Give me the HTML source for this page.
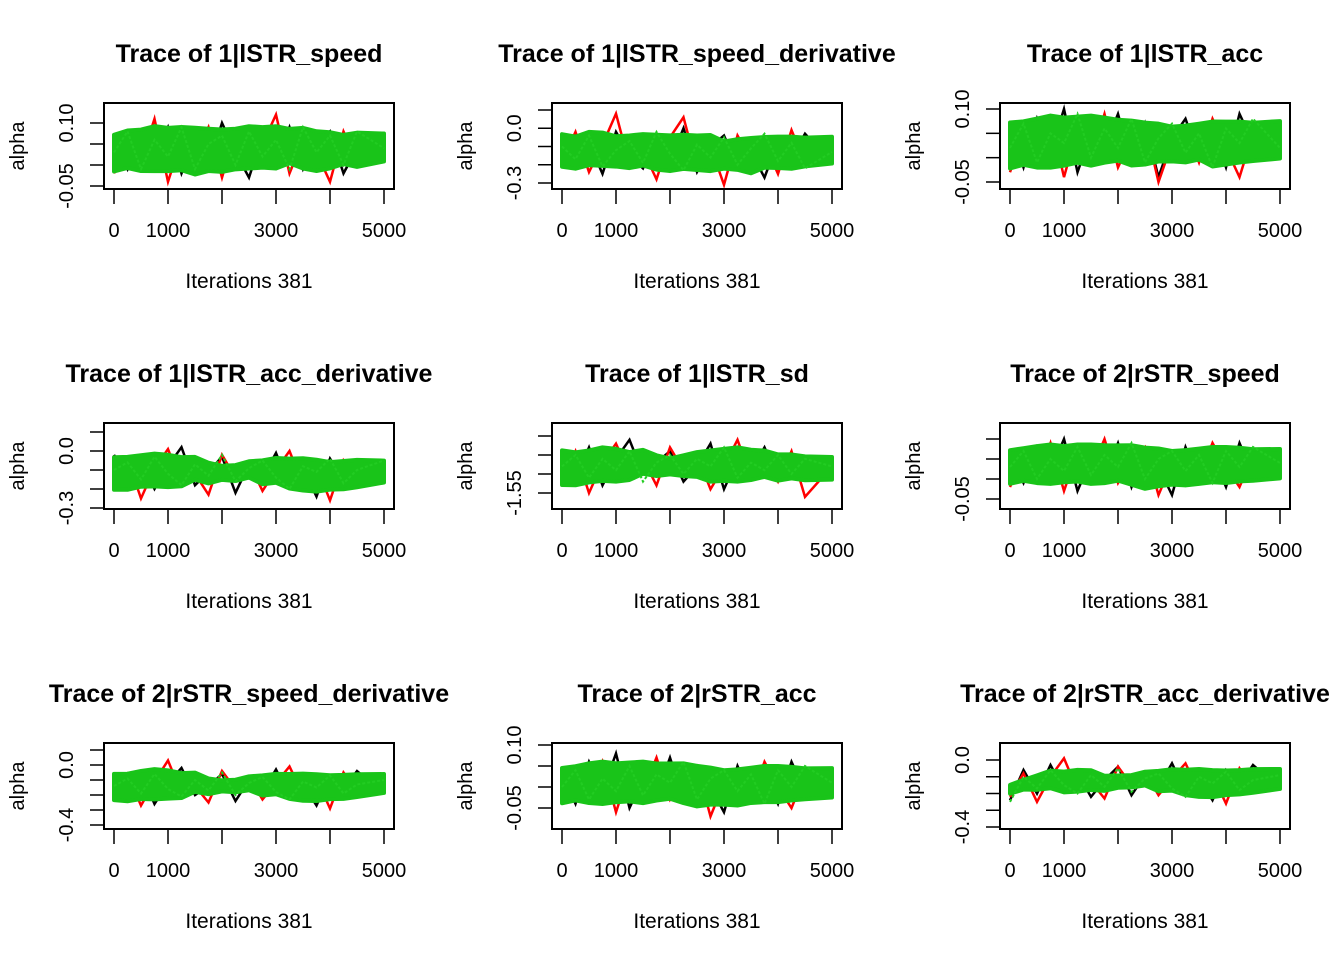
<!DOCTYPE html>
<html><head><meta charset="utf-8"><style>
body{margin:0;background:#fff;}
svg{display:block;font-family:"Liberation Sans",Arial,sans-serif;}
</style></head><body>
<svg id="chart" width="1344" height="960" viewBox="0 0 1344 960" xmlns="http://www.w3.org/2000/svg"></svg>
<script>
const titles=["Trace of 1|lSTR_speed","Trace of 1|lSTR_speed_derivative","Trace of 1|lSTR_acc","Trace of 1|lSTR_acc_derivative","Trace of 1|lSTR_sd","Trace of 2|rSTR_speed","Trace of 2|rSTR_speed_derivative","Trace of 2|rSTR_acc","Trace of 2|rSTR_acc_derivative"];
const xTicks=[0,1000,2000,3000,4000,5000];
const xTickLabels=["0","1000","","3000","","5000"];
const iterations=[0,250,500,750,1000,1250,1500,1750,2000,2250,2500,2750,3000,3250,3500,3750,4000,4250,4500,5000];
const yTicks=[[0.10,0.05,0,-0.05],[0.1,0,-0.1,-0.2,-0.3],[0.10,0.05,0,-0.05],[0.1,0,-0.1,-0.2,-0.3],[-1.40,-1.45,-1.50,-1.55],[0.10,0.05,0,-0.05],[0.1,0,-0.1,-0.2,-0.3,-0.4],[0.10,0.05,0,-0.05],[0,-0.1,-0.2,-0.3,-0.4]];
const yTickLabels=[["0.10","","","-0.05"],["","0.0","","","-0.3"],["0.10","","","-0.05"],["","0.0","","","-0.3"],["","","","-1.55"],["","","","-0.05"],["","0.0","","","","-0.4"],["0.10","","","-0.05"],["0.0","","","","-0.4"]];
const chainBlack=[
[0.05,-0.01,0.08,0.02,0.09,-0.02,0.06,0.00,0.10,0.03,-0.03,0.07,0.01,0.09,-0.01,0.05,0.08,-0.02,0.04,0.06],
[-0.05,-0.20,-0.08,-0.25,-0.02,-0.15,-0.22,-0.06,-0.18,0.00,-0.24,-0.10,-0.04,-0.21,-0.13,-0.27,-0.07,-0.16,-0.03,-0.19],
[0.06,-0.02,0.08,0.01,0.10,-0.03,0.05,0.02,0.09,-0.01,0.07,-0.04,0.04,0.08,0.00,0.06,-0.02,0.09,0.03,0.05],
[-0.02,-0.16,-0.05,-0.20,-0.08,0.02,-0.18,-0.11,-0.03,-0.22,-0.07,-0.14,-0.01,-0.19,-0.09,-0.24,-0.04,-0.15,-0.06,-0.17],
[-1.45,-1.51,-1.43,-1.53,-1.46,-1.41,-1.50,-1.47,-1.44,-1.52,-1.48,-1.42,-1.54,-1.46,-1.49,-1.43,-1.51,-1.45,-1.50,-1.47],
[0.06,-0.01,0.08,0.02,0.10,-0.03,0.05,0.01,0.09,-0.02,0.07,0.03,-0.04,0.08,0.00,0.06,-0.02,0.09,0.01,0.05],
[-0.08,-0.22,-0.05,-0.26,-0.12,-0.02,-0.20,-0.14,-0.06,-0.24,-0.10,-0.18,-0.03,-0.21,-0.13,-0.27,-0.07,-0.16,-0.04,-0.19],
[0.03,-0.04,0.06,-0.01,0.08,-0.05,0.02,-0.02,0.07,-0.03,0.04,0.00,-0.06,0.05,-0.02,0.03,-0.04,0.06,-0.01,0.02],
[-0.24,-0.06,-0.20,-0.03,-0.18,-0.08,-0.22,-0.12,-0.04,-0.21,-0.09,-0.16,-0.02,-0.19,-0.11,-0.24,-0.06,-0.15,-0.03,-0.17]];
const chainRed=[
[-0.02,0.07,0.01,0.11,-0.04,0.06,0.02,0.09,-0.03,0.08,0.00,0.05,0.12,-0.02,0.06,0.03,-0.04,0.08,0.01,0.05],
[-0.18,-0.02,-0.24,-0.09,0.08,-0.20,-0.12,-0.28,-0.05,0.06,-0.22,-0.10,-0.31,-0.04,-0.17,-0.08,-0.25,-0.01,-0.19,-0.11],
[-0.03,0.05,0.01,0.08,-0.04,0.06,0.00,0.09,-0.02,0.04,0.07,-0.05,0.03,0.06,-0.01,0.08,0.02,-0.04,0.05,0.01],
[-0.19,-0.04,-0.25,-0.09,0.01,-0.17,-0.12,-0.23,-0.02,-0.14,-0.06,-0.21,-0.10,0.00,-0.18,-0.08,-0.26,-0.05,-0.15,-0.11],
[-1.52,-1.44,-1.55,-1.47,-1.42,-1.50,-1.46,-1.53,-1.43,-1.49,-1.45,-1.54,-1.48,-1.41,-1.51,-1.46,-1.52,-1.44,-1.56,-1.48],
[-0.02,0.06,0.00,0.09,-0.03,0.07,0.02,0.10,-0.01,0.05,0.08,-0.04,0.04,0.07,0.00,0.09,0.03,-0.02,0.06,0.02],
[-0.20,-0.06,-0.27,-0.11,0.03,-0.19,-0.14,-0.25,-0.04,-0.16,-0.08,-0.23,-0.12,-0.01,-0.20,-0.09,-0.29,-0.05,-0.17,-0.13],
[-0.04,0.03,-0.02,0.06,-0.06,0.04,-0.01,0.07,-0.03,0.02,0.05,-0.07,0.01,0.04,-0.03,0.06,0.00,-0.05,0.03,-0.01],
[-0.22,-0.08,-0.25,-0.10,0.01,-0.18,-0.13,-0.23,-0.04,-0.15,-0.07,-0.21,-0.11,-0.02,-0.19,-0.09,-0.26,-0.05,-0.16,-0.12]];
const chainGreen=[
[0.03,0.08,-0.01,0.06,0.02,0.09,-0.01,0.05,0.07,0.00,0.08,0.02,0.06,-0.01,0.09,0.03,0.07,0.00,0.08,0.04],
[-0.10,-0.17,-0.04,-0.21,-0.12,-0.07,-0.19,-0.02,-0.14,-0.23,-0.09,-0.16,-0.05,-0.20,-0.11,-0.03,-0.18,-0.08,-0.22,-0.13],
[0.02,0.07,-0.01,0.05,0.03,0.09,0.00,0.06,0.02,0.08,-0.01,0.04,0.07,0.01,0.05,-0.02,0.06,0.03,0.08,0.02],
[-0.10,-0.06,-0.15,-0.03,-0.12,-0.18,-0.07,-0.13,-0.02,-0.16,-0.09,-0.05,-0.14,-0.20,-0.08,-0.11,-0.04,-0.17,-0.10,-0.05],
[-1.48,-1.45,-1.51,-1.46,-1.49,-1.44,-1.52,-1.47,-1.45,-1.50,-1.46,-1.48,-1.43,-1.51,-1.47,-1.49,-1.45,-1.50,-1.46,-1.48],
[0.03,0.07,0.00,0.05,0.02,0.08,0.01,0.06,0.03,0.09,0.00,0.05,0.07,0.02,0.06,-0.01,0.07,0.03,0.08,0.04],
[-0.14,-0.09,-0.19,-0.06,-0.16,-0.21,-0.10,-0.17,-0.05,-0.20,-0.12,-0.08,-0.18,-0.23,-0.11,-0.15,-0.07,-0.19,-0.13,-0.10],
[0.00,0.04,-0.03,0.02,-0.01,0.05,-0.02,0.03,0.01,0.06,-0.03,0.02,0.04,-0.01,0.03,-0.04,0.04,0.00,0.05,0.01],
[-0.25,-0.10,-0.17,-0.06,-0.15,-0.20,-0.09,-0.16,-0.05,-0.19,-0.11,-0.08,-0.17,-0.22,-0.10,-0.14,-0.07,-0.18,-0.12,-0.09]];
// layout: pixel rows where first and last y tick sit
const tickPixelTop=[123,110,109,112,116,119,110,105,120];
const tickPixelBot=[186,183,182,188,173,179,185,168,187];

const NS="http://www.w3.org/2000/svg";
const svg=document.getElementById('chart');
function mk(tag,attrs,parent){const e=document.createElementNS(NS,tag);for(const k in attrs)e.setAttribute(k,attrs[k]);(parent||svg).appendChild(e);return e;}

for(let p=0;p<9;p++){
  const col=p%3,row=Math.floor(p/3);
  const ox=col*448, oy=row*320;
  const bx0=104+ox,bx1=394+ox,by0=103+oy,by1=189+oy;
  const g=mk('g',{});
  
  
  const xs=v=>bx0+10+(v/5000)*270;
  const yt=yTicks[p];
  const vTop=yt[0], vBot=yt[yt.length-1];
  const pT=tickPixelTop[p]+oy, pB=tickPixelBot[p]+oy;
  const ys=v=>pT+(vTop-v)/(vTop-vBot)*(pB-pT);
  const ti=mk('text',{x:(bx0+bx1)/2,y:62+oy,'text-anchor':'middle','font-size':'25','font-weight':'bold',fill:'#000'},g);
  ti.textContent=titles[p];
  
  
  const clipId='clip'+p;
  const cp=mk('clipPath',{id:clipId},g);
  mk('rect',{x:bx0+1,y:by0+1,width:bx1-bx0-2,height:by1-by0-2},cp);
  const inner=mk('g',{'clip-path':`url(#${clipId})`},g);
  const chains=[[chainBlack,'#000','chain-1-black'],[chainRed,'#ff0000','chain-2-red']];
  for(const [arr,c,n] of chains){
    const pts=arr[p].map((v,i)=>xs(iterations[i])+','+ys(v)).join(' ');
    const pl=mk('polyline',{points:pts,fill:'none',stroke:c,'stroke-width':'2.5'},inner);
    
    
  }
  const n=iterations.length, mxA=[], mnA=[];
  for(let i=0;i<n;i++){
    const a=[chainBlack[p][i],chainRed[p][i],chainGreen[p][i]];
    mxA.push(Math.max(...a)); mnA.push(Math.min(...a));
  }
  const up=[],lo=[];
  for(let i=0;i<n;i++){
    let su=0,sl=0,c=0;
    for(let j=Math.max(0,i-2);j<=Math.min(n-1,i+2);j++){su+=mxA[j];sl+=mnA[j];c++;}
    const u=su/c,l=sl/c,m=(u+l)/2;
    up.push([xs(iterations[i]),ys(m+(u-m)*1.05)]);
    lo.push([xs(iterations[i]),ys(m-(m-l)*1.05)]);
  }
  const band=mk('polygon',{points:up.concat(lo.reverse()).map(q=>q.join(',')).join(' '),fill:'#19c419',stroke:'#19c419','stroke-width':'4','stroke-linejoin':'round'},inner);
  
  
  const gl=mk('polyline',{points:chainGreen[p].map((v,i)=>xs(iterations[i])+','+ys(v)).join(' '),fill:'none',stroke:'#22cc22','stroke-width':'2','stroke-dasharray':'3 2'},inner);
  
  
  const box=mk('rect',{x:bx0,y:by0,width:bx1-bx0,height:by1-by0,fill:'none',stroke:'#000','stroke-width':'2'},g);
  
  
  xTicks.forEach((v,i)=>{
    mk('line',{x1:xs(v),x2:xs(v),y1:by1,y2:by1+15,stroke:'#000','stroke-width':'1.5'},g);
    if(xTickLabels[i]){const tx=mk('text',{x:xs(v),y:by1+48,'text-anchor':'middle','font-size':'20',fill:'#000'},g);tx.textContent=xTickLabels[i];
      
      }
  });
  const xl=mk('text',{x:(bx0+bx1)/2,y:288+oy,'text-anchor':'middle','font-size':'21',fill:'#000'},g);
  xl.textContent='Iterations 381';
  
  
  yt.forEach((v,i)=>{
    mk('line',{x1:bx0-14,x2:bx0,y1:ys(v),y2:ys(v),stroke:'#000','stroke-width':'1.5'},g);
    const lab=yTickLabels[p][i];
    if(lab){const ty=mk('text',{x:0,y:0,'text-anchor':'middle','font-size':'20',fill:'#000',transform:`translate(${bx0-31},${ys(v)}) rotate(-90)`},g);ty.textContent=lab;
      
      }
  });
  const yl=mk('text',{x:0,y:0,'text-anchor':'middle','font-size':'20',fill:'#000',transform:`translate(${24+ox},${146+oy}) rotate(-90)`},g);
  yl.textContent='alpha';
  
  
}
</script>
</body></html>
